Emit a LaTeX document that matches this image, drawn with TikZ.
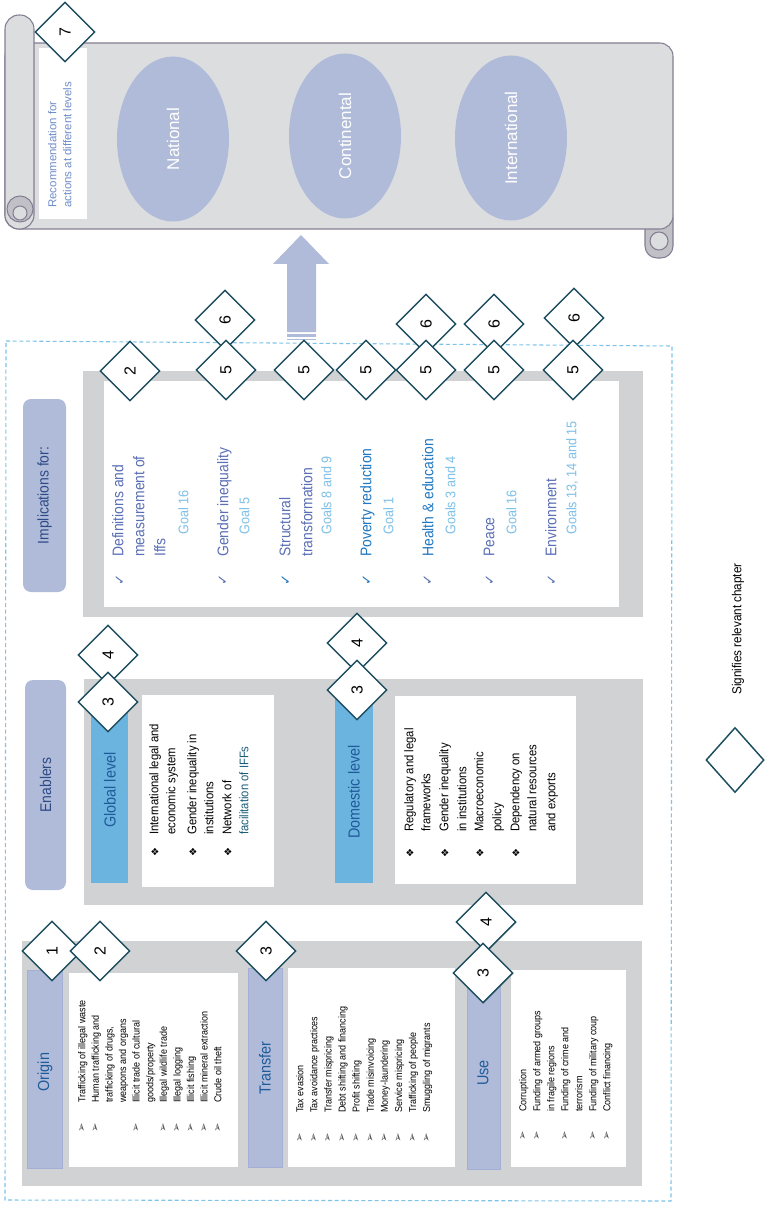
\documentclass[tikz,border=0pt]{standalone}
\usepackage{fontspec}
\setmainfont{Liberation Sans}
\newfontfamily\nar[FakeStretch=0.9]{Liberation Sans}
\newfontfamily\sym{DejaVu Sans}
\usetikzlibrary{shapes.geometric}
\definecolor{cDash}{HTML}{7EC3EA}
\definecolor{cGray}{HTML}{D1D2D4}
\definecolor{cOval}{HTML}{B0BBDA}
\definecolor{cOvalEdge}{HTML}{A3AFD4}
\definecolor{cSky}{HTML}{6CB4E0}
\definecolor{cDia}{HTML}{1D4E5F}
\definecolor{cScroll}{HTML}{DCDDDF}
\definecolor{cScrollLine}{HTML}{857E93}
\definecolor{cRoll}{HTML}{C0C0C6}
\definecolor{cHead}{HTML}{2E4A86}
\definecolor{cBarTxt}{HTML}{1F5A99}
\definecolor{cTitleA}{HTML}{5A6FB5}
\definecolor{cTitleB}{HTML}{1F78C1}
\definecolor{cGoal}{HTML}{7EC0E8}
\definecolor{cRec}{HTML}{6F8DCB}
\definecolor{cTeal}{HTML}{1B5E7A}
\definecolor{cBul}{HTML}{555555}
\newcommand\fLst{\nar\fontsize{7.5}{9}\selectfont}
\newcommand\fEn{\nar\fontsize{9.4}{11}\selectfont}
\newcommand\fImp{\nar\fontsize{11.6}{13}\selectfont}
\newcommand\fGoal{\nar\fontsize{10.5}{12}\selectfont}
\newcommand\fHead{\nar\fontsize{11.6}{13}\selectfont}
\newcommand\fBar{\nar\fontsize{12}{14}\selectfont}
\begin{document}
\begin{tikzpicture}[x=0.75pt,y=-0.75pt,
  lbl/.style={rotate=90,anchor=west,inner sep=0pt,text height=0.7em,text depth=0.2em},
  ctr/.style={rotate=90,inner sep=0pt},
  chap/.style={diamond,draw=cDia,fill=white,line width=1.1pt,minimum width=45pt,minimum height=45pt,inner sep=0pt},
  num/.style={rotate=90,inner sep=0pt,text=black,font=\fontsize{12}{14}\selectfont},
  barbox/.style={fill=cOval,draw=cOvalEdge,line width=0.4pt},
  scrollsty/.style={fill=cScroll,draw=cScrollLine,line width=0.8pt},
  oval/.style={ellipse,fill=cOval,minimum width=123.75pt,minimum height=84pt,rotate=90,text=white,font=\fontsize{12.75}{14}\selectfont},
  bul/.style={rotate=90,inner sep=0pt,text=cBul,font=\sym\fontsize{8.5}{9}\selectfont},
  dmd/.style={rotate=90,inner sep=0pt,text=black,font=\sym\fontsize{7.5}{8}\selectfont},
  chk/.style={rotate=90,inner sep=0pt,font=\sym\fontsize{10}{11}\selectfont}
]
\useasboundingbox (0,0) rectangle (764,1205);

% dashed frame
\draw[cDash,dash pattern=on 3pt off 2pt,line width=0.8pt] (6,341) -- (672,346) -- (671,1201) -- (5,1200) -- cycle;

% ---------- scroll ----------
\draw[scrollsty,fill=cRoll,rounded corners=9pt] (645,205) rectangle (673,258);
\draw[scrollsty] (659,241) circle[radius=9];
\draw[scrollsty,rounded corners=10pt] (20,43) -- (673,43) -- (673,229) -- (5,229) -- (5,43) -- cycle;
\draw[scrollsty,rounded corners=10.5pt] (5,15) rectangle (34,229);
\draw[scrollsty,fill=cRoll] (20,209) circle[radius=13];
\draw[scrollsty] (20,213) circle[radius=7];
\fill[white] (39,48) rectangle (87,219);
\node[lbl,text=cRec,font=\fontsize{8.6}{10}\selectfont] (rec1) at (53,208) {Recommendation for};
\node[lbl,text=cRec,font=\fontsize{8.6}{10}\selectfont] (rec2) at (68,208) {actions at different levels};
\node[chap] (d7) at (65,32) {};
\node[num] (d7t) at (d7) {7};
\node[oval] (nat) at (173,139) {National};
\node[oval] (con) at (345,136) {Continental};
\node[oval] (int) at (511,138) {International};

% ---------- arrow ----------
\fill[cOval] (287,332) -- (287,264) -- (273,264) -- (301,235) -- (329,264) -- (316,264) -- (316,332) -- cycle;
\fill[cOval] (287,334) rectangle (316,336.8);
\fill[cOval] (287,338.6) rectangle (316,340.4);

% ---------- headers ----------
\node[draw=none,fill=cOval,rounded corners=6pt,minimum width=144.75pt,minimum height=32.25pt,rotate=90,text=cHead,font=\fHead] (imp) at (44.5,495.5) {Implications for:};
\node[draw=none,fill=cOval,rounded corners=6pt,minimum width=157.5pt,minimum height=30.75pt,rotate=90,text=cHead,font=\fHead] (enb) at (45.5,785) {Enablers};

% ---------- implications ----------
\fill[cGray] (83,371) rectangle (643,617);
\fill[white] (104,381) rectangle (619,607);

\foreach \x/\c/\t [count=\i] in {120/cTitleA/{Definitions and},141/cTitleA/{measurement of},162/cTitleA/{Iffs},
  225/cTitleA/{Gender inequality},287/cTitleA/{Structural},309/cTitleA/{transformation},
  368/cTitleB/{Poverty reduction},430/cTitleB/{Health \& education},491/cTitleA/{Peace},553/cTitleA/{Environment}}
  \node[lbl,text=\c,font=\fImp] (it\i) at (\x,557) {\t};
\foreach \x/\t [count=\i] in {185/{Goal 16},246/{Goal 5},328/{Goals 8 and 9},390/{Goal 1},452/{Goals 3 and 4},513/{Goal 16},573/{Goals 13, 14 and 15}}
  \node[lbl,text=cGoal,font=\fGoal] (gl\i) at (\x,535) {\t};
\foreach \x/\c [count=\i] in {120/cTitleA,223/cTitleA,286/cTitleB,367/cTitleB,428/cTitleA,490/cTitleA,552/cTitleA}
  \node[chk,text=\c] (ck\i) at (\x,580) {✓};

% ---------- enablers ----------
\fill[cGray] (84,679) rectangle (643,905);
\fill[white] (142,695) rectangle (274,887);
\fill[white] (395,696) rectangle (576,884);
\fill[cSky] (91,695) rectangle (128,883);
\fill[cSky] (335,695) rectangle (373,883);
\node[ctr,text=cBarTxt,font=\fBar] (glob) at (110,790) {Global level};
\node[ctr,text=cBarTxt,font=\fBar] (dom) at (354,792) {Domestic level};
\foreach \x/\c/\t [count=\i] in {155/black/{International legal and},172/black/{economic system},193/black/{Gender inequality in},210/black/{institutions},228/black/{Network of},245/cTeal/{facilitation of IFFs}}
  \node[lbl,text=\c,font=\fEn] (ge\i) at (\x,835) {\t};
\foreach \x [count=\i] in {155,193,228}
  \node[dmd] (gb\i) at (\x,852) {❖};
\foreach \x/\t [count=\i] in {410/{Regulatory and legal},427/{frameworks},445/{Gender inequality},463/{in institutions},480/{Macroeconomic},498/{policy},516/{Dependency on},533/{natural resources},552/{and exports}}
  \node[lbl,text=black,font=\fEn] (de\i) at (\x,832) {\t};
\foreach \x [count=\i] in {410,445,480,516}
  \node[dmd] (db\i) at (\x,853) {❖};

% ---------- origin / transfer / use ----------
\fill[cGray] (22,941) rectangle (642,1186);
\draw[barbox] (27,970) rectangle (62,1168);
\draw[barbox] (248,968) rectangle (282,1167);
\draw[barbox] (467,970) rectangle (500,1169);
\fill[white] (69,973) rectangle (238,1167);
\fill[white] (288,968) rectangle (455,1167);
\fill[white] (511,970) rectangle (626,1167);
\node[ctr,text=cBarTxt,font=\fBar] (org) at (45,1072) {Origin};
\node[ctr,text=cBarTxt,font=\fBar] (trf) at (265,1068) {Transfer};
\node[ctr,text=cBarTxt,font=\fBar] (use) at (483,1073) {Use};

\foreach \t [count=\i] in {{Trafficking of illegal waste},{Human trafficking and},{trafficking of drugs,},{weapons and organs},{Illicit trade of cultural},{goods/property},{Illegal wildlife trade},{Illegal logging},{Illicit fishing},{Illicit mineral extraction},{Crude oil theft}}
  \node[lbl,font=\fLst] (ol\i) at ({82+(\i-1)*13.6},1103) {\t};
\foreach \i in {1,2,5,7,8,9,10,11}
  \node[bul] (ob\i) at ({82+(\i-1)*13.6},1128) {➢};
\foreach \t [count=\i] in {{Tax evasion},{Tax avoidance practices},{Transfer mispricing},{Debt shifting and financing},{Profit shifting},{Trade misinvoicing},{Money-laundering},{Service mispricing},{Trafficking of people},{Smuggling of migrants}}
  {\node[lbl,font=\fLst] (tl\i) at ({300+(\i-1)*14.1},1113) {\t};
   \node[bul] (tb\i) at ({300+(\i-1)*14.1},1138) {➢};}
\foreach \t [count=\i] in {{Corruption},{Funding of armed groups},{in fragile regions},{Funding of crime and},{terrorism},{Funding of military coup},{Conflict financing}}
  \node[lbl,font=\fLst] (ul\i) at ({523+(\i-1)*14},1112) {\t};
\foreach \i in {1,2,4,6,7}
  \node[bul] (ub\i) at ({523+(\i-1)*14},1136) {➢};

% ---------- chapter diamonds ----------
\foreach \n/\x/\y/\v in {i2/130/371/2, i6a/225/320/6, i5a/226/370/5, i5b/304/370/5, i5c/366/370/5,
   i6b/426/324/6, i5d/426/370/5, i6c/494/324/6, i5e/494/370/5, i6d/574/318/6, i5f/573/370/5,
   g4/108/655/4, g3/108/702/3, dm4/357/643/4, dm3/357/690/3,
   o1/52/951/1, o2/100/951/2, t3/266/951/3, u4/486/922/4, u3/483/973/3}
  {\node[chap] (\n) at (\x,\y) {};
   \node[num] (\n t) at (\n) {\v};}

% ---------- legend ----------
\node[diamond,draw=cDia,line width=1.1pt,minimum width=43.5pt,minimum height=48.75pt,inner sep=0pt] (leg) at (735,760) {};
\node[lbl,font=\nar\fontsize{9.75}{11}\selectfont] (legt) at (738,695) {Signifies relevant chapter};
\end{tikzpicture}
\end{document}
